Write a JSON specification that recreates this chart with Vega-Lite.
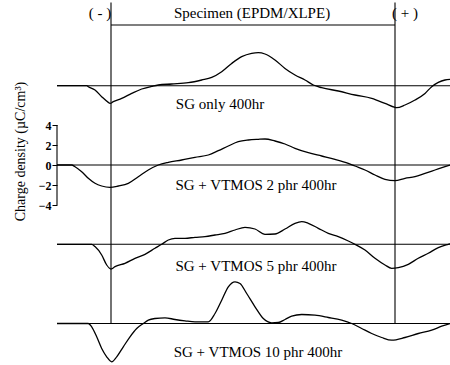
{
  "$schema": "https://vega.github.io/schema/vega-lite/v6.json",
  "width": 393,
  "height": 365,
  "autosize": {"type": "none"},
  "padding": {"left": 57, "top": 0, "right": 0, "bottom": 0},
  "background": "white",
  "config": {
    "view": {"stroke": null},
    "font": "Liberation Serif",
    "text": {"font": "Liberation Serif", "fontSize": 15, "color": "black"},
    "rule": {"color": "black", "strokeWidth": 1.1},
    "line": {"color": "black", "strokeWidth": 1.3, "interpolate": "monotone"},
    "axis": {
      "domain": false, "grid": false, "tickColor": "black", "tickSize": 5, "tickWidth": 1,
      "labelFont": "Liberation Serif", "labelFontSize": 12, "labelFontWeight": "bold", "labelColor": "black", "labelPadding": 1,
      "titleFont": "Liberation Serif", "titleFontSize": 14, "titleFontWeight": "normal", "titleColor": "black"
    }
  },
  "datasets": {
    "profiles": [
      {"s":"A","x":-54,"rho":0},{"s":"A","x":-24.3,"rho":0},{"s":"A","x":-22.7,"rho":-0.1},{"s":"A","x":-16,"rho":-0.43},{"s":"A","x":-9.3,"rho":-1.1},{"s":"A","x":-2.7,"rho":-1.67},{"s":"A","x":-1,"rho":-1.77},{"s":"A","x":2.3,"rho":-1.6},{"s":"A","x":10.7,"rho":-1.27},{"s":"A","x":20.7,"rho":-0.77},{"s":"A","x":30.7,"rho":-0.33},{"s":"A","x":40.7,"rho":-0.07},{"s":"A","x":47.3,"rho":0.07},{"s":"A","x":60.7,"rho":0.17},{"s":"A","x":77.3,"rho":0.3},{"s":"A","x":90.7,"rho":0.57},{"s":"A","x":100.7,"rho":0.83},{"s":"A","x":110.7,"rho":1.4},{"s":"A","x":120.7,"rho":2.23},{"s":"A","x":130.7,"rho":2.9},{"s":"A","x":140.7,"rho":3.23},{"s":"A","x":147.3,"rho":3.3},{"s":"A","x":154,"rho":3.17},{"s":"A","x":164,"rho":2.57},{"s":"A","x":174,"rho":1.73},{"s":"A","x":184,"rho":1.07},{"s":"A","x":194,"rho":0.57},{"s":"A","x":202.3,"rho":0.07},{"s":"A","x":210.7,"rho":-0.2},{"s":"A","x":227.3,"rho":-0.53},{"s":"A","x":244,"rho":-0.93},{"s":"A","x":260.7,"rho":-1.27},{"s":"A","x":274,"rho":-1.77},{"s":"A","x":284,"rho":-2.17},{"s":"A","x":285.7,"rho":-2.2},{"s":"A","x":294,"rho":-1.93},{"s":"A","x":304,"rho":-1.43},{"s":"A","x":314,"rho":-0.77},{"s":"A","x":320.7,"rho":-0.1},{"s":"A","x":327.3,"rho":0.33},{"s":"A","x":334,"rho":0.57},{"s":"A","x":339,"rho":0.63},
      {"s":"B","x":-54,"rho":0},{"s":"B","x":-39.3,"rho":0},{"s":"B","x":-36,"rho":-0.17},{"s":"B","x":-29.3,"rho":-0.67},{"s":"B","x":-22.7,"rho":-1.33},{"s":"B","x":-16,"rho":-1.83},{"s":"B","x":-9.3,"rho":-2.1},{"s":"B","x":-1,"rho":-2.23},{"s":"B","x":7.3,"rho":-2.1},{"s":"B","x":17.3,"rho":-1.83},{"s":"B","x":27.3,"rho":-1.17},{"s":"B","x":37.3,"rho":-0.5},{"s":"B","x":47.3,"rho":0},{"s":"B","x":57.3,"rho":0.27},{"s":"B","x":70.7,"rho":0.5},{"s":"B","x":84,"rho":0.77},{"s":"B","x":97.3,"rho":1.0},{"s":"B","x":107.3,"rho":1.43},{"s":"B","x":117.3,"rho":1.9},{"s":"B","x":127.3,"rho":2.33},{"s":"B","x":137.3,"rho":2.5},{"s":"B","x":147.3,"rho":2.57},{"s":"B","x":154,"rho":2.6},{"s":"B","x":164,"rho":2.4},{"s":"B","x":174,"rho":2.1},{"s":"B","x":184,"rho":1.67},{"s":"B","x":197.3,"rho":1.23},{"s":"B","x":210.7,"rho":0.9},{"s":"B","x":224,"rho":0.57},{"s":"B","x":237.3,"rho":0.17},{"s":"B","x":244,"rho":-0.1},{"s":"B","x":254,"rho":-0.5},{"s":"B","x":264,"rho":-1.0},{"s":"B","x":274,"rho":-1.43},{"s":"B","x":284,"rho":-1.57},{"s":"B","x":294,"rho":-1.33},{"s":"B","x":304,"rho":-1.17},{"s":"B","x":314,"rho":-0.83},{"s":"B","x":324,"rho":-0.5},{"s":"B","x":334,"rho":-0.17},{"s":"B","x":339,"rho":0},
      {"s":"C","x":-54,"rho":0},{"s":"C","x":-19.3,"rho":0},{"s":"C","x":-16,"rho":-0.23},{"s":"C","x":-9.3,"rho":-1.07},{"s":"C","x":-4.3,"rho":-2.07},{"s":"C","x":0,"rho":-2.47},{"s":"C","x":4,"rho":-2.23},{"s":"C","x":14,"rho":-1.9},{"s":"C","x":24,"rho":-1.4},{"s":"C","x":34,"rho":-1.0},{"s":"C","x":44,"rho":-0.4},{"s":"C","x":50.7,"rho":0},{"s":"C","x":57.3,"rho":0.43},{"s":"C","x":64,"rho":0.6},{"s":"C","x":74,"rho":0.6},{"s":"C","x":84,"rho":0.7},{"s":"C","x":94,"rho":0.77},{"s":"C","x":104,"rho":0.93},{"s":"C","x":114,"rho":1.1},{"s":"C","x":124,"rho":1.43},{"s":"C","x":134,"rho":1.7},{"s":"C","x":144,"rho":1.53},{"s":"C","x":154,"rho":1.0},{"s":"C","x":164,"rho":1.03},{"s":"C","x":174,"rho":1.53},{"s":"C","x":184,"rho":2.1},{"s":"C","x":190.7,"rho":2.27},{"s":"C","x":197.3,"rho":2.1},{"s":"C","x":207.3,"rho":1.6},{"s":"C","x":217.3,"rho":1.1},{"s":"C","x":227.3,"rho":0.77},{"s":"C","x":237.3,"rho":0.33},{"s":"C","x":244,"rho":0},{"s":"C","x":254,"rho":-0.57},{"s":"C","x":264,"rho":-1.4},{"s":"C","x":274,"rho":-2.07},{"s":"C","x":280.7,"rho":-2.4},{"s":"C","x":287.3,"rho":-2.33},{"s":"C","x":297.3,"rho":-2.0},{"s":"C","x":307.3,"rho":-1.4},{"s":"C","x":317.3,"rho":-0.9},{"s":"C","x":327.3,"rho":-0.33},{"s":"C","x":337.3,"rho":0},{"s":"C","x":339,"rho":0.05},
      {"s":"D","x":-54,"rho":0},{"s":"D","x":-22.7,"rho":0},{"s":"D","x":-19.3,"rho":-0.33},{"s":"D","x":-14.3,"rho":-1.33},{"s":"D","x":-9.3,"rho":-2.5},{"s":"D","x":-4.3,"rho":-3.33},{"s":"D","x":0.7,"rho":-3.83},{"s":"D","x":5.7,"rho":-3.33},{"s":"D","x":12.3,"rho":-2.33},{"s":"D","x":19,"rho":-1.33},{"s":"D","x":25.7,"rho":-0.5},{"s":"D","x":32.3,"rho":0},{"s":"D","x":37.3,"rho":0.33},{"s":"D","x":44,"rho":0.5},{"s":"D","x":54,"rho":0.57},{"s":"D","x":64,"rho":0.4},{"s":"D","x":74,"rho":0.27},{"s":"D","x":84,"rho":0.17},{"s":"D","x":97.3,"rho":0.17},{"s":"D","x":104,"rho":1.0},{"s":"D","x":110.7,"rho":2.33},{"s":"D","x":117.3,"rho":3.67},{"s":"D","x":124,"rho":4.17},{"s":"D","x":129,"rho":4.0},{"s":"D","x":135.7,"rho":3.0},{"s":"D","x":144,"rho":1.67},{"s":"D","x":152.3,"rho":0.5},{"s":"D","x":160.7,"rho":0.07},{"s":"D","x":167.3,"rho":0.1},{"s":"D","x":174,"rho":0.4},{"s":"D","x":180.7,"rho":0.73},{"s":"D","x":190.7,"rho":0.9},{"s":"D","x":204,"rho":0.83},{"s":"D","x":217.3,"rho":0.6},{"s":"D","x":230.7,"rho":0.33},{"s":"D","x":240.7,"rho":0},{"s":"D","x":250.7,"rho":-0.5},{"s":"D","x":260.7,"rho":-1.0},{"s":"D","x":270.7,"rho":-1.4},{"s":"D","x":280.7,"rho":-1.67},{"s":"D","x":294,"rho":-1.4},{"s":"D","x":307.3,"rho":-1.0},{"s":"D","x":320.7,"rho":-0.67},{"s":"D","x":330.7,"rho":-0.27},{"s":"D","x":339,"rho":0}
    ]
  },
  "resolve": {"scale": {"y": "independent"}, "axis": {"y": "independent"}},
  "layer": [
    {
      "layer": [
        {
          "data": {"name": "profiles"},
          "transform": [{"filter": "datum.s === 'A'"}],
          "mark": "line",
          "encoding": {
            "x": {"field": "x", "type": "quantitative", "scale": {"domain": [-54, 339], "nice": false, "zero": false}, "axis": null},
            "y": {"field": "rho", "type": "quantitative", "scale": {"domain": [-27.93, 8.57], "nice": false}, "axis": null}
          }
        },
        {"data": {"values": [{}]}, "mark": "rule", "encoding": {"y": {"datum": 0, "type": "quantitative", "scale": {"domain": [-27.93, 8.57], "nice": false}, "axis": null}}},
        {"data": {"values": [{}]}, "mark": "rule", "encoding": {
          "x": {"datum": 0, "type": "quantitative", "scale": {"domain": [-54, 339], "nice": false, "zero": false}, "axis": null}, "x2": {"datum": 284},
          "y": {"datum": 6.07, "type": "quantitative", "scale": {"domain": [-27.93, 8.57], "nice": false}, "axis": null}}},
        {"data": {"values": [{}]}, "mark": {"type": "text", "baseline": "middle"}, "encoding": {
          "x": {"datum": 109, "type": "quantitative", "scale": {"domain": [-54, 339], "nice": false, "zero": false}, "axis": null},
          "y": {"datum": -1.83, "type": "quantitative", "scale": {"domain": [-27.93, 8.57], "nice": false}, "axis": null},
          "text": {"value": "SG only 400hr"}}},
        {"data": {"values": [{}]}, "mark": {"type": "text", "baseline": "middle"}, "encoding": {
          "x": {"datum": 141, "type": "quantitative", "scale": {"domain": [-54, 339], "nice": false, "zero": false}, "axis": null},
          "y": {"datum": 7.27, "type": "quantitative", "scale": {"domain": [-27.93, 8.57], "nice": false}, "axis": null},
          "text": {"value": "Specimen (EPDM/XLPE)"}}},
        {"data": {"values": [{}]}, "mark": {"type": "text", "baseline": "middle"}, "encoding": {
          "x": {"datum": -11, "type": "quantitative", "scale": {"domain": [-54, 339], "nice": false, "zero": false}, "axis": null},
          "y": {"datum": 7.27, "type": "quantitative", "scale": {"domain": [-27.93, 8.57], "nice": false}, "axis": null},
          "text": {"value": "( - )"}}},
        {"data": {"values": [{}]}, "mark": {"type": "text", "baseline": "middle"}, "encoding": {
          "x": {"datum": 294, "type": "quantitative", "scale": {"domain": [-54, 339], "nice": false, "zero": false}, "axis": null},
          "y": {"datum": 7.27, "type": "quantitative", "scale": {"domain": [-27.93, 8.57], "nice": false}, "axis": null},
          "text": {"value": "( + )"}}}
      ]
    },
    {
      "layer": [
        {
          "data": {"name": "profiles"},
          "transform": [{"filter": "datum.s === 'B'"}],
          "mark": "line",
          "encoding": {
            "x": {"field": "x", "type": "quantitative", "scale": {"domain": [-54, 339], "nice": false, "zero": false}, "axis": null},
            "y": {"field": "rho", "type": "quantitative", "scale": {"domain": [-20, 16.5], "nice": false},
              "axis": {"orient": "left", "values": [-4, -2, 0, 2, 4], "title": "Charge density (µC/cm³)", "titleX": -37, "titleY": 151, "titleBaseline": "middle", "titleAngle": 270}}
          }
        },
        {"data": {"values": [{}]}, "mark": "rule", "encoding": {"y": {"datum": 0, "type": "quantitative", "scale": {"domain": [-20, 16.5], "nice": false}}}},
        {"data": {"values": [{}]}, "mark": "rule", "encoding": {
          "x": {"datum": -54, "type": "quantitative", "scale": {"domain": [-54, 339], "nice": false, "zero": false}, "axis": null},
          "y": {"datum": -4, "type": "quantitative", "scale": {"domain": [-20, 16.5], "nice": false}}, "y2": {"datum": 4}}},
        {"data": {"values": [{}]}, "mark": {"type": "text", "baseline": "middle"}, "encoding": {
          "x": {"datum": 145, "type": "quantitative", "scale": {"domain": [-54, 339], "nice": false, "zero": false}, "axis": null},
          "y": {"datum": -2.0, "type": "quantitative", "scale": {"domain": [-20, 16.5], "nice": false}},
          "text": {"value": "SG + VTMOS 2 phr 400hr"}}}
      ]
    },
    {
      "layer": [
        {
          "data": {"name": "profiles"},
          "transform": [{"filter": "datum.s === 'C'"}],
          "mark": "line",
          "encoding": {
            "x": {"field": "x", "type": "quantitative", "scale": {"domain": [-54, 339], "nice": false, "zero": false}, "axis": null},
            "y": {"field": "rho", "type": "quantitative", "scale": {"domain": [-12.07, 24.43], "nice": false}, "axis": null}
          }
        },
        {"data": {"values": [{}]}, "mark": "rule", "encoding": {"y": {"datum": 0, "type": "quantitative", "scale": {"domain": [-12.07, 24.43], "nice": false}, "axis": null}}},
        {"data": {"values": [{}]}, "mark": {"type": "text", "baseline": "middle"}, "encoding": {
          "x": {"datum": 145, "type": "quantitative", "scale": {"domain": [-54, 339], "nice": false, "zero": false}, "axis": null},
          "y": {"datum": -2.2, "type": "quantitative", "scale": {"domain": [-12.07, 24.43], "nice": false}, "axis": null},
          "text": {"value": "SG + VTMOS 5 phr 400hr"}}}
      ]
    },
    {
      "layer": [
        {
          "data": {"name": "profiles"},
          "transform": [{"filter": "datum.s === 'D'"}],
          "mark": "line",
          "encoding": {
            "x": {"field": "x", "type": "quantitative", "scale": {"domain": [-54, 339], "nice": false, "zero": false}, "axis": null},
            "y": {"field": "rho", "type": "quantitative", "scale": {"domain": [-4.15, 32.35], "nice": false}, "axis": null}
          }
        },
        {"data": {"values": [{}]}, "mark": "rule", "encoding": {"y": {"datum": 0, "type": "quantitative", "scale": {"domain": [-4.15, 32.35], "nice": false}, "axis": null}}},
        {"data": {"values": [{}]}, "mark": "rule", "encoding": {
          "x": {"datum": 0, "type": "quantitative", "scale": {"domain": [-54, 339], "nice": false, "zero": false}, "axis": null},
          "y": {"datum": 0, "type": "quantitative", "scale": {"domain": [-4.15, 32.35], "nice": false}, "axis": null}, "y2": {"datum": 32.1}}},
        {"data": {"values": [{}]}, "mark": "rule", "encoding": {
          "x": {"datum": 284, "type": "quantitative", "scale": {"domain": [-54, 339], "nice": false, "zero": false}, "axis": null},
          "y": {"datum": 0, "type": "quantitative", "scale": {"domain": [-4.15, 32.35], "nice": false}, "axis": null}, "y2": {"datum": 32.1}}},
        {"data": {"values": [{}]}, "mark": {"type": "text", "baseline": "middle"}, "encoding": {
          "x": {"datum": 147, "type": "quantitative", "scale": {"domain": [-54, 339], "nice": false, "zero": false}, "axis": null},
          "y": {"datum": -2.85, "type": "quantitative", "scale": {"domain": [-4.15, 32.35], "nice": false}, "axis": null},
          "text": {"value": "SG + VTMOS 10 phr 400hr"}}}
      ]
    }
  ]
}
